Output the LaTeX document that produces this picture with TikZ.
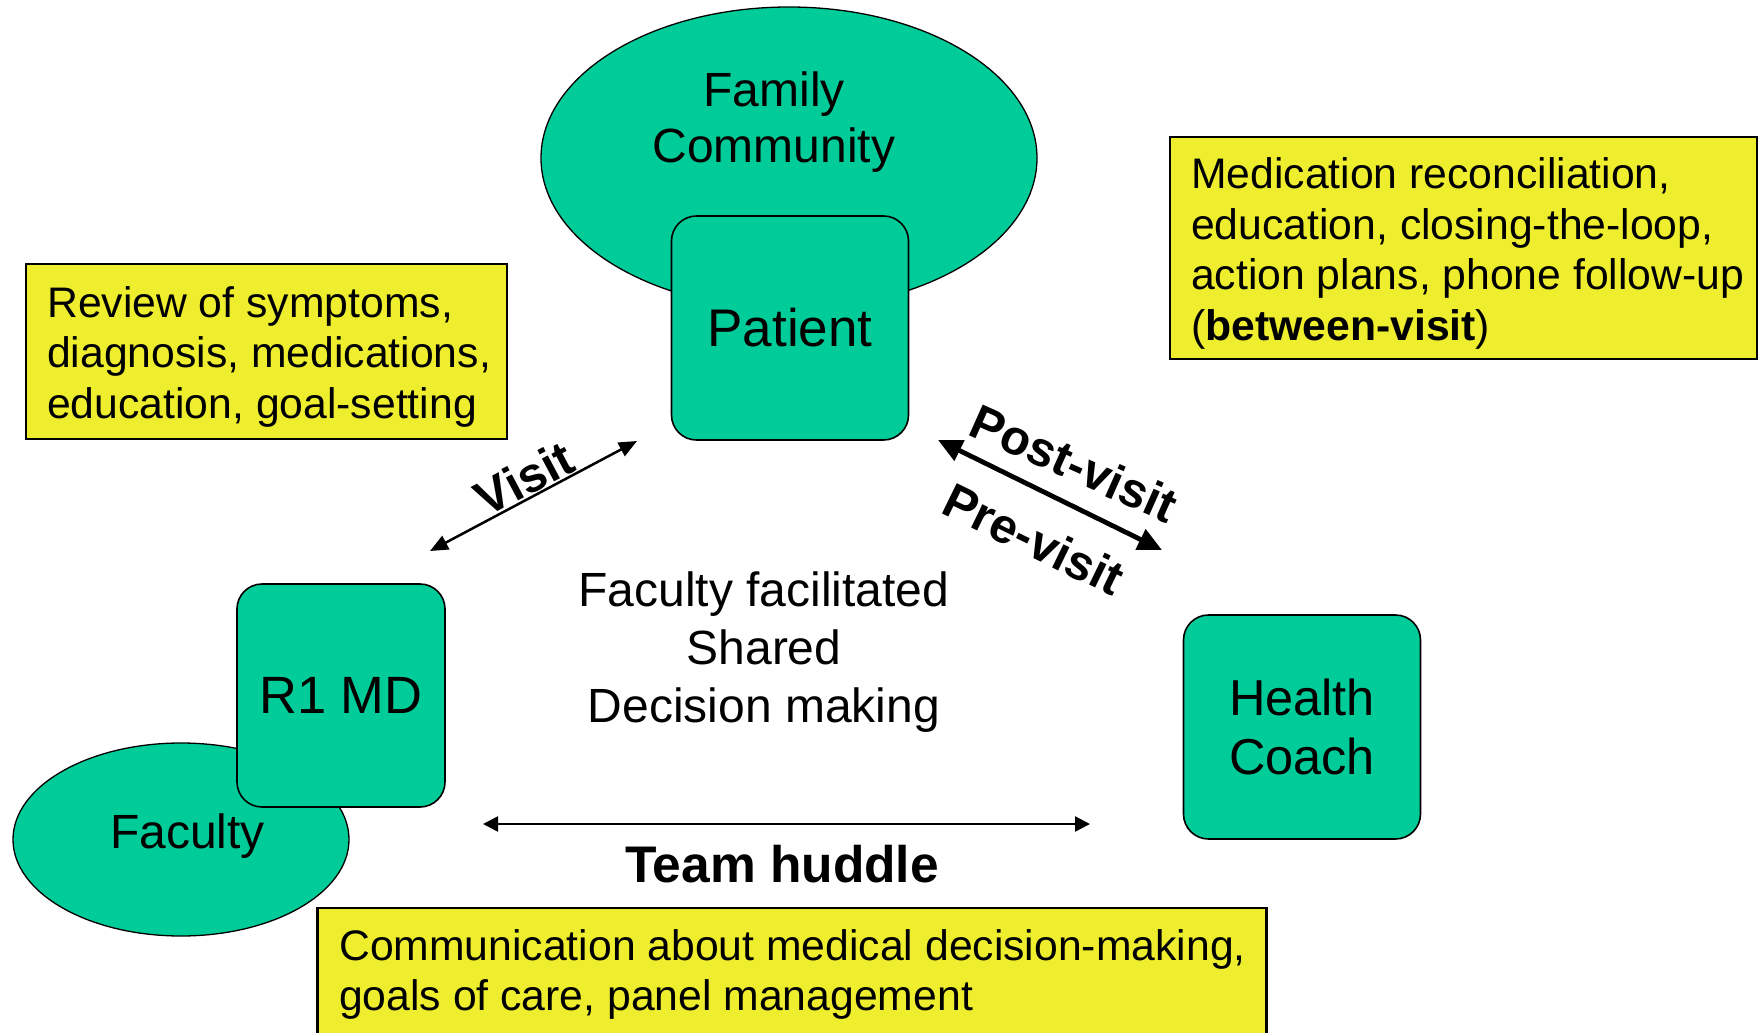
\documentclass[tikz,border=0pt]{standalone}
\usepackage{fontspec}
\setmainfont{Liberation Sans}
\usetikzlibrary{shapes.geometric,arrows.meta}
\definecolor{tealg}{RGB}{0,204,153}
\definecolor{yel}{RGB}{238,238,46}
\begin{document}
\begin{tikzpicture}[x=1pt,y=-1pt,
  gbox/.style={draw=black, line width=1.6pt, fill=tealg, rounded corners=25pt, inner sep=0pt, align=center},
  gell/.style={draw=black, line width=1.3pt, fill=tealg, ellipse, inner sep=0pt},
  ybox/.style={draw=black, line width=2.5pt, fill=yel, inner sep=0pt},
  ytxt/.style={inner sep=0pt, align=left, anchor=north west, font=\fontsize{42.7}{50.5}\selectfont},
  lbl/.style={inner sep=0pt, font=\bfseries\fontsize{49}{56}\selectfont},
  thinarr/.style={line width=2.5pt, {Triangle[length=18pt,width=15pt]}-{Triangle[length=18pt,width=15pt]}},
  thickarr/.style={line width=4.8pt, {Triangle[length=24pt,width=22pt]}-{Triangle[length=24pt,width=22pt]}},
  huddlearr/.style={line width=2.3pt, {Triangle[length=15pt,width=15pt]}-{Triangle[length=15pt,width=15pt]}},
]
\useasboundingbox[fill=white] (0,0) rectangle (1759,1033);

% Family / Community and Patient
\node[gell, minimum width=496pt, minimum height=302pt] (fam) at (789,158) {};
\node[inner sep=0pt, align=center, font=\fontsize{48}{56}\selectfont] (famtxt) at (774,122) {Family\\Community};
\node[gbox, minimum width=237pt, minimum height=224pt, font=\fontsize{53}{60}\selectfont] (pat) at (790,328) {Patient};

% Faculty and R1 MD
\node[gell, minimum width=336pt, minimum height=193pt] (fac) at (181,839.5) {};
\node[inner sep=0pt, font=\fontsize{48}{56}\selectfont] (factxt) at (187.5,836) {Faculty};
\node[gbox, minimum width=208pt, minimum height=223pt, font=\fontsize{52.5}{60}\selectfont] (r1) at (341,695.5) {R1 MD};

% Health Coach
\node[gbox, minimum width=237pt, minimum height=224pt, font=\fontsize{50.5}{59}\selectfont] (hc) at (1302,727) {Health\\Coach};

% Yellow boxes
\node[ybox, minimum width=481pt, minimum height=175pt] (revbox) at (266.5,351.5) {};
\node[ytxt] (revtxt) at (47,286) {Review of symptoms,\\diagnosis, medications,\\education, goal-setting};

\node[ybox, minimum width=587pt, minimum height=222pt] (medbox) at (1463.5,248) {};
\node[ytxt] (medtxt) at (1191,157.5) {Medication reconciliation,\\education, closing-the-loop,\\action plans, phone follow-up\\(\textbf{between-visit})};

\node[ybox, minimum width=949pt, minimum height=137pt] (combox) at (792,976.5) {};
\node[ytxt, font=\fontsize{42.7}{50}\selectfont] (comtxt) at (339,929.5) {Communication about medical decision-making,\\goals of care, panel management};

% Center text
\node[inner sep=0pt, align=center, font=\fontsize{48}{58}\selectfont] (shared) at (764,652) {Faculty facilitated\\Shared\\Decision making};

% Arrows
\coordinate (v1) at (430,551);
\coordinate (v2) at (637,441);
\draw[thinarr] (v1) -- (v2);
\node[lbl, rotate=28] (visit) at (524,478) {Visit};

\coordinate (p1) at (938,440);
\coordinate (p2) at (1162,550);
\draw[thickarr] (p1) -- (p2);
\node[lbl, rotate=-24] (post) at (1074,463) {Post-visit};
\node[lbl, rotate=-26] (pre) at (1034,539) {Pre-visit};

\coordinate (t1) at (483,824);
\coordinate (t2) at (1090,824);
\draw[huddlearr] (t1) -- (t2);
\node[inner sep=0pt, font=\bfseries\fontsize{51.5}{58}\selectfont] (huddle) at (782,864.5) {Team huddle};
\end{tikzpicture}
\end{document}
